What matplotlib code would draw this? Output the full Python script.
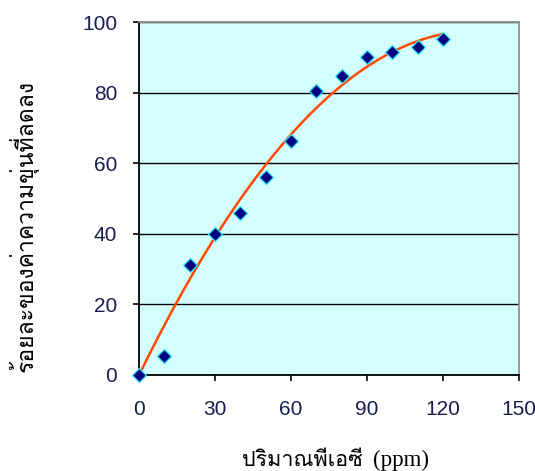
import numpy as np
import matplotlib
matplotlib.use("Agg")
import matplotlib.pyplot as plt
from matplotlib import font_manager
from matplotlib.ft2font import FT2Font

# ปริมาณพีเอซี (ppm) กับ ร้อยละความขุ่นที่ลดลง
dose = [0, 10, 20, 30, 40, 50, 60, 70, 80, 90, 100, 110, 120]
turb_removed = [0, 5.4, 31.2, 40.0, 45.9, 56.0, 66.3, 80.5, 84.7, 90.1, 91.5, 92.9, 95.2]

xticks = [0, 30, 60, 90, 120, 150]
yticks = [0, 20, 40, 60, 80, 100]


def find_thai_font(prefer=("Loma", "Athiti", "Bai Jamjuree")):
    # หา font ที่มีอักษรไทย
    found = {}
    for f in font_manager.findSystemFonts():
        try:
            ft = FT2Font(f)
            cmap = ft.get_charmap()
        except Exception:
            continue
        if 0x0E1B in cmap and 0x0E13 in cmap and ft.style_name in ("Regular", "Book", "Medium"):
            found.setdefault(ft.family_name, f)
    for name in prefer:
        if name in found:
            return name, found[name]
    for name, f in found.items():
        return name, f
    return None, None


thai_name, thai_file = find_thai_font()
if thai_file:
    font_manager.fontManager.addfont(thai_file)
    thai_family = [thai_name, "DejaVu Sans"]
else:
    thai_family = ["DejaVu Sans"]

# เส้นแนวโน้ม polynomial ดีกรี 2 ผ่านจุดกำเนิด
x = np.array(dose, dtype=float)
y = np.array(turb_removed, dtype=float)
A = np.column_stack([x, x ** 2])
a, b = np.linalg.lstsq(A, y, rcond=None)[0]
xx = np.linspace(0, 120, 200)
yy = a * xx + b * xx ** 2

fig = plt.figure(figsize=(5.35, 4.71), dpi=100)
ax = fig.add_axes([0.26, 0.204, 0.71, 0.749])
ax.set_facecolor("#D4FFFF")

ax.yaxis.grid(True, color="black", linewidth=1.0)
ax.set_axisbelow(True)

ax.plot(xx, yy, color="#FF4A00", linewidth=1.8, zorder=3)
ax.plot(dose, turb_removed, linestyle="none", marker="D", markersize=7.5,
        markerfacecolor="#000080", markeredgecolor="#30E8F8", markeredgewidth=0.9, zorder=4,
        clip_on=False)

ax.set_xlim(0, 150)
ax.set_ylim(0, 100)
ax.set_xticks(xticks)
ax.set_yticks(yticks)

for s in ["left", "bottom"]:
    ax.spines[s].set_color("black")
    ax.spines[s].set_linewidth(1.3)
for s in ["top", "right"]:
    ax.spines[s].set_color("#909090")
    ax.spines[s].set_linewidth(1.3)

ax.tick_params(direction="out", length=4.3, width=1.2, color="black",
               labelsize=15, labelcolor="#1C1C50")
ax.tick_params(axis="y", pad=11.5)
ax.tick_params(axis="x", pad=13.5)
for lab in ax.get_xticklabels() + ax.get_yticklabels():
    lab.set_family("Liberation Sans")

fig.text(0.044, 0.52, "ร้อยละของค่าความขุ่นที่ลดลง", rotation=90,
         ha="center", va="center", fontsize=16.5, family=thai_family, color="black")
fig.text(0.452, 0.011, "ปริมาณพีเอซี", ha="left", va="baseline",
         fontsize=15.5, family=thai_family, color="black")
fig.text(0.697, 0.011, "(ppm)", ha="left", va="baseline",
         fontsize=16.5, family="Liberation Serif", color="black")

fig.savefig("out.png", dpi=100)
